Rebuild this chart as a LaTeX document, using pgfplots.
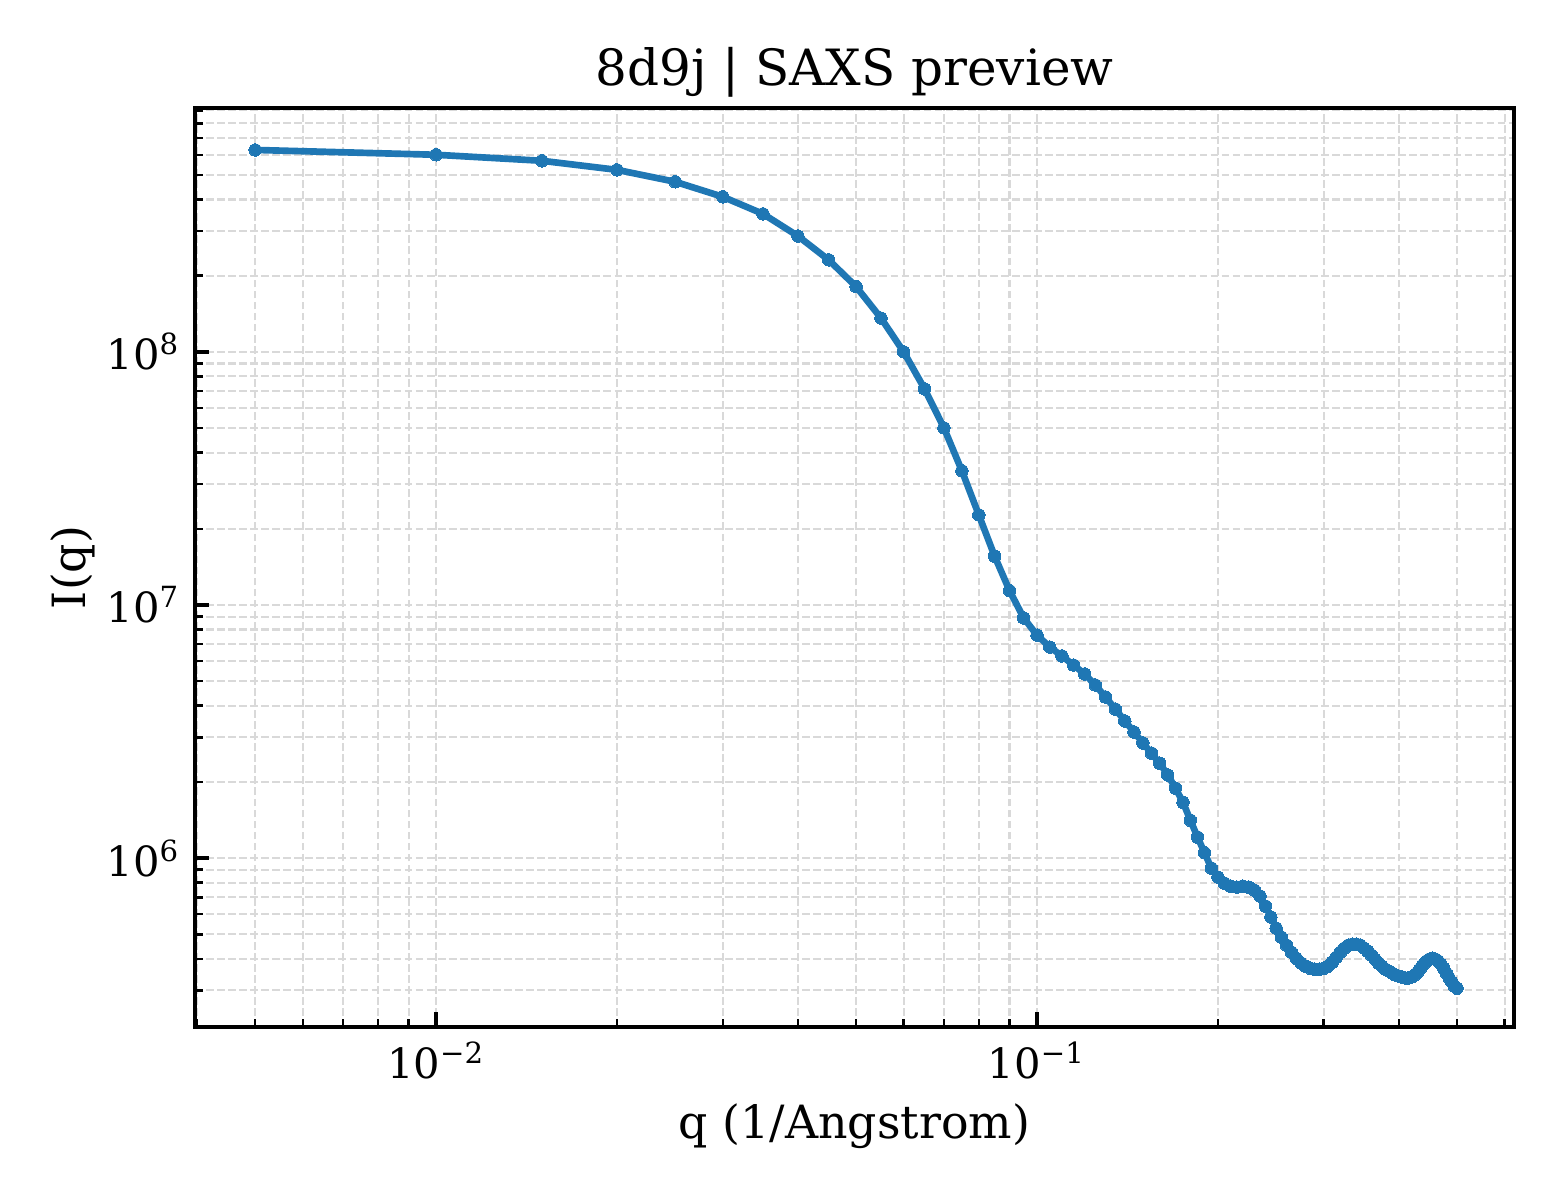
\documentclass[border=0pt]{standalone}
\usepackage{fontspec}
\setmainfont{DejaVu Serif}
\usepackage{pgfplots}
\pgfplotsset{compat=1.18}
\definecolor{tabblue}{HTML}{1F77B4}
\definecolor{gridgray}{HTML}{D9D9D9}

\begin{document}
\begin{tikzpicture}
  \begin{axis}[
      name=ax,
      scale only axis,
      width=316.6pt, height=220.6pt,
      xmode=log, ymode=log,
      xmin=0.00397, xmax=0.622,
      ymin=2.15e5, ymax=9.2e8,
      xtick={0.01,0.1},
      xticklabels={10\textsuperscript{−2}, 10\textsuperscript{−1}},
      minor xtick={0.004,0.005,0.006,0.007,0.008,0.009,0.02,0.03,0.04,0.05,0.06,0.07,0.08,0.09,0.2,0.3,0.4,0.5,0.6},
      ytick={1e6,1e7,1e8},
      yticklabels={10\textsuperscript{6}, 10\textsuperscript{7}, 10\textsuperscript{8}},
      minor ytick={3e5,4e5,5e5,6e5,7e5,8e5,9e5,2e6,3e6,4e6,5e6,6e6,7e6,8e6,9e6,2e7,3e7,4e7,5e7,6e7,7e7,8e7,9e7,2e8,3e8,4e8,5e8,6e8,7e8,8e8,9e8},
      tick pos=left,
      tick align=inside,
      major tick length=3.5pt,
      minor tick length=2pt,
      every major tick/.append style={black, line width=0.8pt},
      every minor tick/.append style={black, line width=0.6pt},
      axis line style={line width=0.8pt},
      grid=both,
      major grid style={gridgray, line width=0.5pt, dash pattern=on 1.85pt off 0.8pt},
      minor grid style={gridgray, line width=0.5pt, dash pattern=on 1.85pt off 0.8pt},
      tick label style={font=\fontsize{10}{12}\selectfont},
      title={8d9j | SAXS preview},
      title style={font=\fontsize{12}{14}\selectfont, yshift=-7pt},
      xlabel={q (1/Angstrom)},
      ylabel={I(q)},
      label style={font=\fontsize{11}{13}\selectfont},
      xlabel style={yshift=1pt},
      ylabel style={yshift=-4pt},
    ]
    \addplot[color=tabblue, line width=1.6pt, line join=round,
             mark=*, mark size=1.5pt, mark options={fill=tabblue, draw=tabblue, line width=0pt}]
      coordinates {
        (0.005,6.28e8)(0.010,6.01e8)(0.015,5.69e8)(0.020,5.24e8)(0.025,4.70e8)
        (0.030,4.10e8)(0.035,3.51e8)(0.040,2.87e8)(0.045,2.31e8)(0.050,1.81e8)
        (0.055,1.36e8)(0.060,1.00e8)(0.065,7.14e7)(0.070,5.01e7)(0.075,3.39e7)
        (0.080,2.27e7)(0.085,1.56e7)(0.090,1.14e7)(0.095,8.89e6)(0.100,7.60e6)
        (0.105,6.82e6)(0.110,6.29e6)(0.115,5.79e6)(0.120,5.34e6)(0.125,4.83e6)
        (0.130,4.33e6)(0.135,3.88e6)(0.140,3.48e6)(0.145,3.15e6)(0.150,2.85e6)
        (0.155,2.60e6)(0.160,2.37e6)(0.165,2.13e6)(0.170,1.89e6)(0.175,1.66e6)
        (0.180,1.41e6)(0.185,1.21e6)(0.190,1.05e6)(0.195,9.13e5)(0.200,8.41e5)
        (0.205,7.96e5)(0.210,7.75e5)(0.215,7.68e5)(0.220,7.75e5)(0.225,7.68e5)
        (0.230,7.47e5)(0.235,7.08e5)(0.240,6.46e5)(0.245,5.85e5)(0.250,5.29e5)
        (0.255,4.87e5)(0.260,4.53e5)(0.265,4.25e5)(0.270,4.02e5)(0.275,3.85e5)
        (0.280,3.74e5)(0.285,3.67e5)(0.290,3.64e5)(0.295,3.64e5)(0.300,3.67e5)
        (0.305,3.74e5)(0.310,3.88e5)(0.315,4.06e5)(0.320,4.25e5)(0.325,4.41e5)
        (0.330,4.53e5)(0.335,4.57e5)(0.340,4.57e5)(0.345,4.53e5)(0.350,4.41e5)
        (0.355,4.29e5)(0.360,4.14e5)(0.365,3.99e5)(0.370,3.85e5)(0.375,3.74e5)
        (0.380,3.64e5)(0.385,3.58e5)(0.390,3.51e5)(0.395,3.45e5)(0.400,3.42e5)
        (0.405,3.39e5)(0.410,3.36e5)(0.415,3.36e5)(0.420,3.39e5)(0.425,3.45e5)
        (0.430,3.54e5)(0.435,3.67e5)(0.440,3.81e5)(0.445,3.92e5)(0.450,3.99e5)
        (0.455,4.02e5)(0.460,3.99e5)(0.465,3.92e5)(0.470,3.81e5)(0.475,3.67e5)
        (0.480,3.51e5)(0.485,3.36e5)(0.490,3.24e5)(0.495,3.12e5)(0.500,3.06e5)
      };
    \coordinate (sw) at (rel axis cs:0,0);
    \coordinate (ne) at (rel axis cs:1,1);
  \end{axis}
  \path[use as bounding box] ([shift={(-46.8pt,-41.52pt)}]sw) rectangle ([shift={(11.04pt,25.92pt)}]ne);
\end{tikzpicture}
\end{document}
